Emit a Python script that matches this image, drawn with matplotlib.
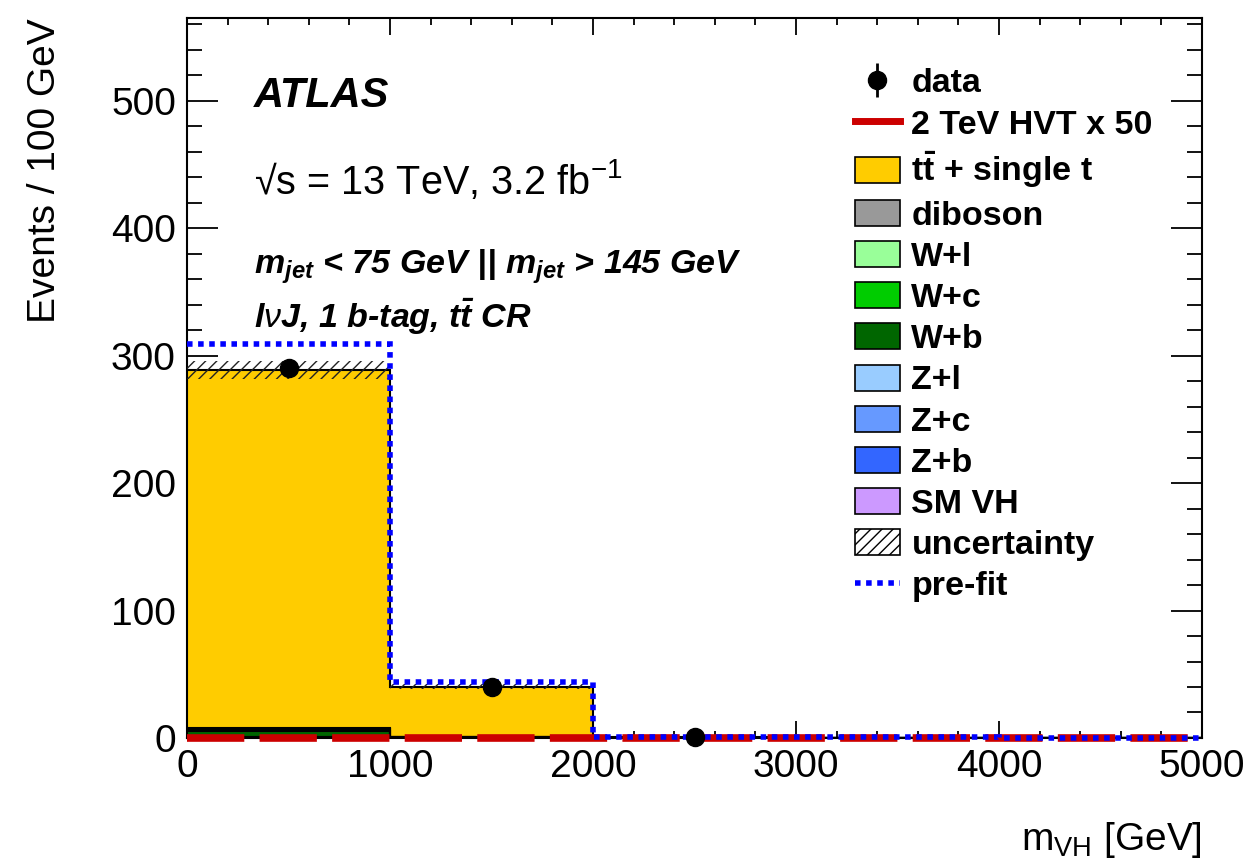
import numpy as np
import matplotlib
matplotlib.use("Agg")
import matplotlib.pyplot as plt
from matplotlib.patches import Patch
from matplotlib.lines import Line2D

plt.rcParams["font.family"] = ["Liberation Sans", "DejaVu Sans"]
plt.rcParams["mathtext.fontset"] = "custom"
plt.rcParams["mathtext.rm"] = "Liberation Sans"
plt.rcParams["mathtext.it"] = "Liberation Sans:italic"
plt.rcParams["mathtext.bf"] = "Liberation Sans:bold"
plt.rcParams["mathtext.bfit"] = "Liberation Sans:bold:italic"
plt.rcParams["hatch.linewidth"] = 1.0

# bins in m_VH [GeV]
edges = [0, 1000, 2000, 3000, 4000, 5000]
centers = [500, 1500, 2500]

# background yields per bin (post-fit), stacked bottom -> top
sm_vh = [0.1, 0.02, 0.0, 0.0, 0.0]
z_b = [0.2, 0.05, 0.0, 0.0, 0.0]
z_c = [0.1, 0.02, 0.0, 0.0, 0.0]
z_l = [0.1, 0.02, 0.0, 0.0, 0.0]
w_b = [5.0, 0.4, 0.05, 0.0, 0.0]
w_c = [1.2, 0.1, 0.02, 0.0, 0.0]
w_l = [0.6, 0.05, 0.01, 0.0, 0.0]
diboson = [0.9, 0.1, 0.02, 0.0, 0.0]
ttbar = [280.8, 39.3, 1.0, 0.0, 0.0]
unc = [7.0, 2.0, 0.3, 0.0, 0.0]

data_y = [290, 40, 1]
prefit = [309, 44, 1.0, 0.5, 0.3]
hvt_x50 = [0.3, 0.3, 0.3, 0.3, 0.3]

stack = [
    ("SM VH", sm_vh, "#CC99FF"),
    ("Z+b", z_b, "#3366FF"),
    ("Z+c", z_c, "#6699FF"),
    ("Z+l", z_l, "#99CCFF"),
    ("W+b", w_b, "#006600"),
    ("W+c", w_c, "#00CC00"),
    ("W+l", w_l, "#99FF99"),
    ("diboson", diboson, "#999999"),
    (r"$\mathbf{t\bar{t}}$ + single t", ttbar, "#FFCC00"),
]

fig = plt.figure(figsize=(12.56, 8.63), dpi=100)
ax = fig.add_axes([0.1489, 0.1449, 0.8081, 0.8342])

base = np.zeros(len(edges) - 1)
for name, vals, col in stack:
    vals = np.array(vals)
    ax.stairs(base + vals, edges, baseline=base, fill=True, color=col, zorder=2)
    ax.stairs(base + vals, edges, baseline=None, color="black", lw=1.5, zorder=3)
    base = base + vals

# uncertainty band
unc = np.array(unc)
ax.stairs(base + unc, edges, baseline=base - unc, fill=True, facecolor="none",
          edgecolor="#222222", hatch="///", lw=0, zorder=4)

# signal and pre-fit
ax.stairs(hvt_x50, edges, baseline=None, color="#CC0000", lw=5.5,
          linestyle=(0, (7.5, 2)), zorder=5, clip_on=False)
ax.stairs(prefit, edges, baseline=None, color="#0000FF", lw=4,
          linestyle=(0, (1, 1)), zorder=6, clip_on=False)

data_h = ax.errorbar(centers, data_y, yerr=0, fmt="o", color="black", ms=13,
                     elinewidth=2, zorder=7, clip_on=False)

ax.set_xlim(0, 5000)
ax.set_ylim(0, 565)
ax.set_xticks([0, 1000, 2000, 3000, 4000, 5000])
ax.set_yticks([0, 100, 200, 300, 400, 500])
ax.set_xticks(np.arange(0, 5001, 200), minor=True)
ax.set_yticks(np.arange(0, 561, 20), minor=True)
ax.tick_params(which="both", direction="in", top=True, right=True,
               labelsize=28, width=1.3, pad=8)
ax.tick_params(axis="y", which="major", length=22)
ax.tick_params(axis="y", which="minor", length=11)
ax.tick_params(axis="x", which="major", length=12)
ax.tick_params(axis="x", which="minor", length=5)
for s in ax.spines.values():
    s.set_linewidth(1.5)

fig.text(45 / 1256, 1 - 18 / 863, "Events / 100 GeV", rotation=90,
         ha="center", va="top", fontsize=28)
fig.text(1202 / 1256, 1 - 840 / 863, r"m$_{\mathregular{VH}}$ [GeV]",
         ha="right", va="center", fontsize=28)

ax.text(0.066, 0.892, "ATLAS", transform=ax.transAxes, fontsize=30,
        fontweight="bold", style="italic", va="center")
ax.text(0.066, 0.775, "\u221as = 13 TeV, 3.2 fb$^{\\mathregular{-1}}$",
        transform=ax.transAxes, fontsize=28.5, va="center")
ax.text(0.066, 0.655,
        r"$\mathbfit{m}_{\mathbfit{jet}}$ < 75 GeV || $\mathbfit{m}_{\mathbfit{jet}}$ > 145 GeV",
        transform=ax.transAxes, fontsize=24.5, fontweight="bold", style="italic",
        va="center")
ax.text(0.066, 0.585, r"l$\nu$J, 1 b-tag, $\mathbfit{t\bar{t}}$ CR",
        transform=ax.transAxes, fontsize=24.5, fontweight="bold", style="italic",
        va="center")

handles = [data_h, Line2D([], [], color="#CC0000", lw=5)]
labels = ["data", "2 TeV HVT x 50"]
for name, vals, col in stack[::-1]:
    handles.append(Patch(facecolor=col, edgecolor="black", lw=1.2))
    labels.append(name)
handles.append(Patch(facecolor="white", edgecolor="black", hatch="///", lw=1.2))
labels.append("uncertainty")
handles.append(Line2D([], [], color="#0000FF", lw=4, linestyle=(0, (1, 1))))
labels.append("pre-fit")

leg = ax.legend(handles, labels, loc="upper left", bbox_to_anchor=(0.645, 0.95),
                frameon=False, prop={"weight": "bold", "size": 24.5},
                handlelength=1.3, handleheight=0.8, labelspacing=0.275,
                handletextpad=0.35, borderaxespad=0)

fig.savefig("out.png", dpi=100)
